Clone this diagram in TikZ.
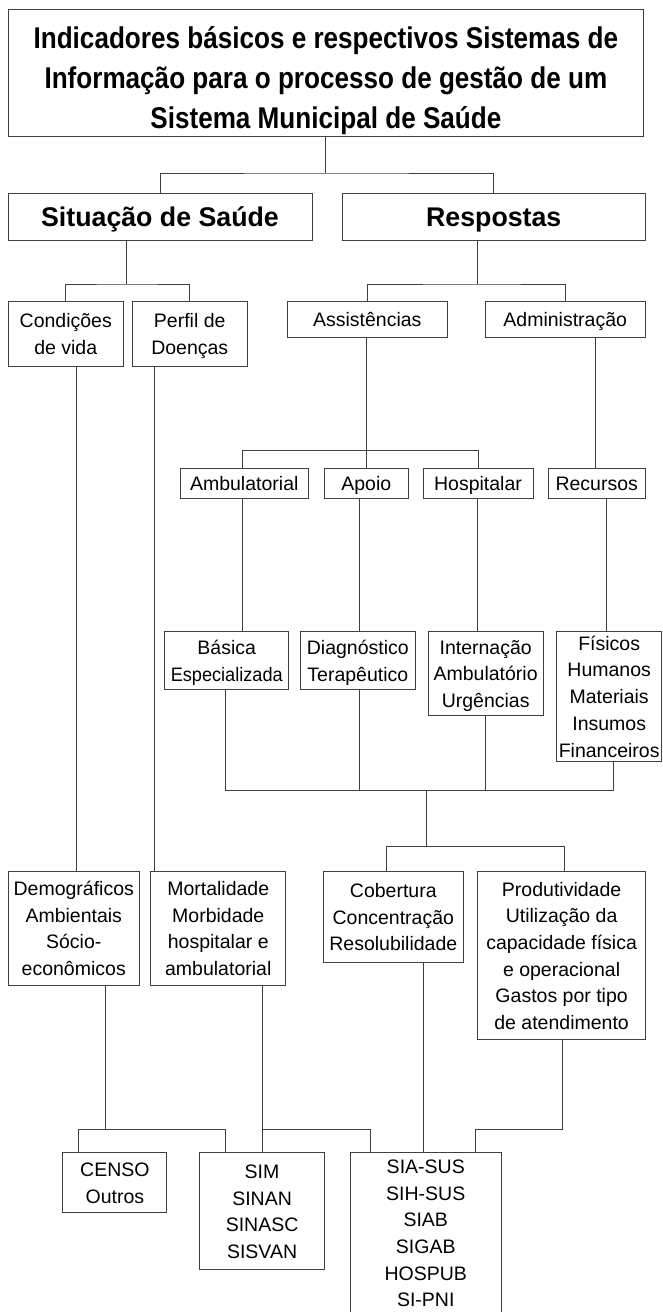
\documentclass[tikz,border=0pt]{standalone}
\usepackage{fontspec}
\setmainfont{Liberation Sans}
\newfontfamily\titlefont{Liberation Sans}[FakeStretch=0.87]
\newfontfamily\headfont{Liberation Sans}[FakeStretch=0.99]
\newfontfamily\narrowfont{Liberation Sans}[FakeStretch=0.93]
\newcommand\mlgen[4]{\vtop{\let\\\cr\baselineskip=#3\relax\lineskiplimit=-100pt\relax
  \halign{\hfil\vrule height #1 depth #2 width 0pt##\hfil\cr#4\crcr}}}
\newcommand\ml[1]{\mlgen{18.5pt}{4pt}{26.7pt}{#1}}
\newcommand\mlt[1]{\mlgen{22pt}{7pt}{40pt}{#1}}
\begin{document}
\begin{tikzpicture}[x=1pt,y=-1pt,
  box/.style={draw=black!75, line width=0.9pt, inner sep=0pt, outer sep=0pt,
    font=\fontsize{19.5}{26.7}\selectfont, text=black,
    execute at begin node={\vrule width 0pt height 18.5pt},
    execute at end node={\vrule width 0pt depth 4.5pt}},
  frame/.style={draw=black!75, line width=0.9pt, inner sep=0pt, outer sep=0pt},
  titletext/.style={inner sep=0pt, outer sep=0pt, text=black,
    font=\titlefont\bfseries\fontsize{30}{40}\selectfont},
  headbox/.style={draw=black!75, line width=0.9pt, inner sep=0pt, outer sep=0pt,
    font=\headfont\bfseries\fontsize{27}{32}\selectfont, text=black,
    execute at begin node={\vrule width 0pt height 26pt},
    execute at end node={\vrule width 0pt depth 4.4pt}},
  ln/.style={draw=black!75, line width=0.9pt}]
\useasboundingbox[fill=white] (0,0) rectangle (663,1312);

% level 0
\node[frame, minimum width=635.2, minimum height=127.4] (title) at (325.9,73) {};
\node[titletext, anchor=base] (titlet) at (325.9,48.3)
  {\mlt{Indicadores básicos e respectivos Sistemas de\\Informação para o processo de gestão de um\\Sistema Municipal de Saúde}};
% level 1
\node[headbox, minimum width=304, minimum height=47] (sit) at (160,216.5) {Situação de Saúde};
\node[headbox, minimum width=303.5, minimum height=47] (resp) at (493.75,216.5) {Respostas};
% level 2
\node[box, minimum width=114.5, minimum height=65] (cond) at (65.75,333.5) {\ml{Condições\\de vida}};
\node[box, minimum width=114.5, minimum height=65] (perf) at (189.75,333.5) {\ml{Perfil de\\Doenças}};
\node[box, minimum width=159.5, minimum height=36] (assi) at (367.25,319) {Assistências};
\node[box, minimum width=160.5, minimum height=36] (admi) at (565.25,319) {Administração};
% level 3
\node[box, minimum width=127.5, minimum height=30] (ambu) at (244.25,483.3) {Ambulatorial};
\node[box, minimum width=84.5, minimum height=30] (apoi) at (366.25,483.3) {Apoio};
\node[box, minimum width=110, minimum height=30] (hosp) at (478,483.3) {Hospitalar};
\node[box, minimum width=97.5, minimum height=30] (recu) at (596.75,483.3) {Recursos};
% level 4
\node[box, minimum width=123.9, minimum height=57.6] (basi) at (226.75,660.5) {\ml{Básica\\{\narrowfont Especializada}}};
\node[box, minimum width=114.4, minimum height=57.6] (diag) at (357.8,660.5) {\ml{Diagnóstico\\Terapêutico}};
\node[box, minimum width=115.3, minimum height=83.8] (inte) at (485.65,673.6) {\ml{Internação\\Ambulatório\\Urgências}};
\node[box, minimum width=105, minimum height=129.3] (fisi) at (609.2,696.35) {\ml{Físicos\\Humanos\\Materiais\\Insumos\\Financeiros}};
% level 5
\node[box, minimum width=130.5, minimum height=113.3] (demo) at (73.75,928.35) {\ml{Demográficos\\Ambientais\\Sócio-\\econômicos}};
\node[box, minimum width=135.1, minimum height=113.3] (mort) at (218.25,928.35) {\ml{Mortalidade\\Morbidade\\hospitalar e\\ambulatorial}};
\node[box, minimum width=139.4, minimum height=90.3] (cobe) at (393.3,916.85) {\ml{Cobertura\\Concentração\\Resolubilidade}};
\node[box, minimum width=167.8, minimum height=167.6] (prod) at (561.6,955.5) {\ml{Produtividade\\Utilização da\\capacidade física\\e operacional\\Gastos por tipo\\de atendimento}};
% level 6
\node[box, minimum width=104.1, minimum height=60] (cens) at (114.85,1182.7) {\ml{CENSO\\Outros}};
\node[box, minimum width=124.9, minimum height=116.8] (sim) at (262.05,1211.1) {\ml{SIM\\SINAN\\SINASC\\SISVAN}};
\node[frame, minimum width=150.5, minimum height=200, anchor=north] (sia) at (425.75,1152.7) {};
\node[box, draw=none, anchor=base] (siatext) at (425.75,1173.3) {\ml{SIA-SUS\\SIH-SUS\\SIAB\\SIGAB\\HOSPUB\\SI-PNI}};

% connectors
\coordinate (j1) at (326,173);
\draw[ln] (title.south) -- (title.south |- j1);
\draw[ln] (sit.north) |- (j1) -| (resp.north);

\coordinate (j2) at (126.5,284);
\draw[ln] (j2 |- sit.south) -- (j2);
\draw[ln] (cond.north) |- (j2) -| (perf.north);

\coordinate (j3) at (477,284);
\draw[ln] (j3 |- resp.south) -- (j3);
\draw[ln] (assi.north) |- (j3) -| (admi.north);

\coordinate (c1) at (76.4,0);
\coordinate (c2) at (154,0);
\draw[ln] (cond.south -| c1) -- (demo.north -| c1);
\draw[ln] (perf.south -| c2) -- (mort.north -| c2);

\coordinate (j4) at (366.5,450.7);
\coordinate (c4) at (242,0);
\draw[ln] (j4 |- assi.south) -- (j4 |- apoi.north);
\draw[ln] (c4 |- ambu.north) -- (c4 |- j4) -| (hosp.north);

\coordinate (c3) at (595,0);
\coordinate (c5) at (359,0);
\coordinate (c6) at (477.7,0);
\coordinate (c7) at (606,0);
\draw[ln] (admi.south -| c3) -- (recu.north -| c3);
\draw[ln] (ambu.south -| c4) -- (basi.north -| c4);
\draw[ln] (apoi.south -| c5) -- (diag.north -| c5);
\draw[ln] (hosp.south -| c6) -- (inte.north -| c6);
\draw[ln] (recu.south -| c7) -- (fisi.north -| c7);

\coordinate (j5) at (426.7,790.5);
\coordinate (j6) at (426.7,846.7);
\coordinate (c8) at (225,0);
\coordinate (c9) at (359,0);
\coordinate (c10) at (485,0);
\coordinate (c11) at (613,0);
\draw[ln] (basi.south -| c8) -- (c8 |- j5) -- (c11 |- j5) -- (fisi.south -| c11);
\draw[ln] (diag.south -| c9) -- (c9 |- j5);
\draw[ln] (inte.south -| c10) -- (c10 |- j5);
\draw[ln] (j5) -- (j6);
\coordinate (c12) at (386.4,0);
\coordinate (c13) at (564,0);
\draw[ln] (cobe.north -| c12) -- (c12 |- j6) -- (c13 |- j6) -- (prod.north -| c13);

\coordinate (hb) at (0,1129.3);
\coordinate (c14) at (105.5,0);
\coordinate (c15) at (78.6,0);
\coordinate (c16) at (225,0);
\coordinate (c17) at (262.4,0);
\coordinate (c18) at (370.3,0);
\coordinate (c19) at (423.8,0);
\coordinate (c20) at (562.6,0);
\coordinate (c21) at (475.6,0);
\draw[ln] (demo.south -| c14) -- (c14 |- hb);
\draw[ln] (cens.north -| c15) -- (c15 |- hb) -- (c16 |- hb) -- (sim.north -| c16);
\draw[ln] (mort.south -| c17) -- (sim.north -| c17);
\draw[ln] (c17 |- hb) -- (c18 |- hb) -- (sia.north -| c18);
\draw[ln] (cobe.south -| c19) -- (sia.north -| c19);
\draw[ln] (prod.south -| c20) -- (c20 |- hb) -- (c21 |- hb) -- (sia.north -| c21);
\end{tikzpicture}
\end{document}
